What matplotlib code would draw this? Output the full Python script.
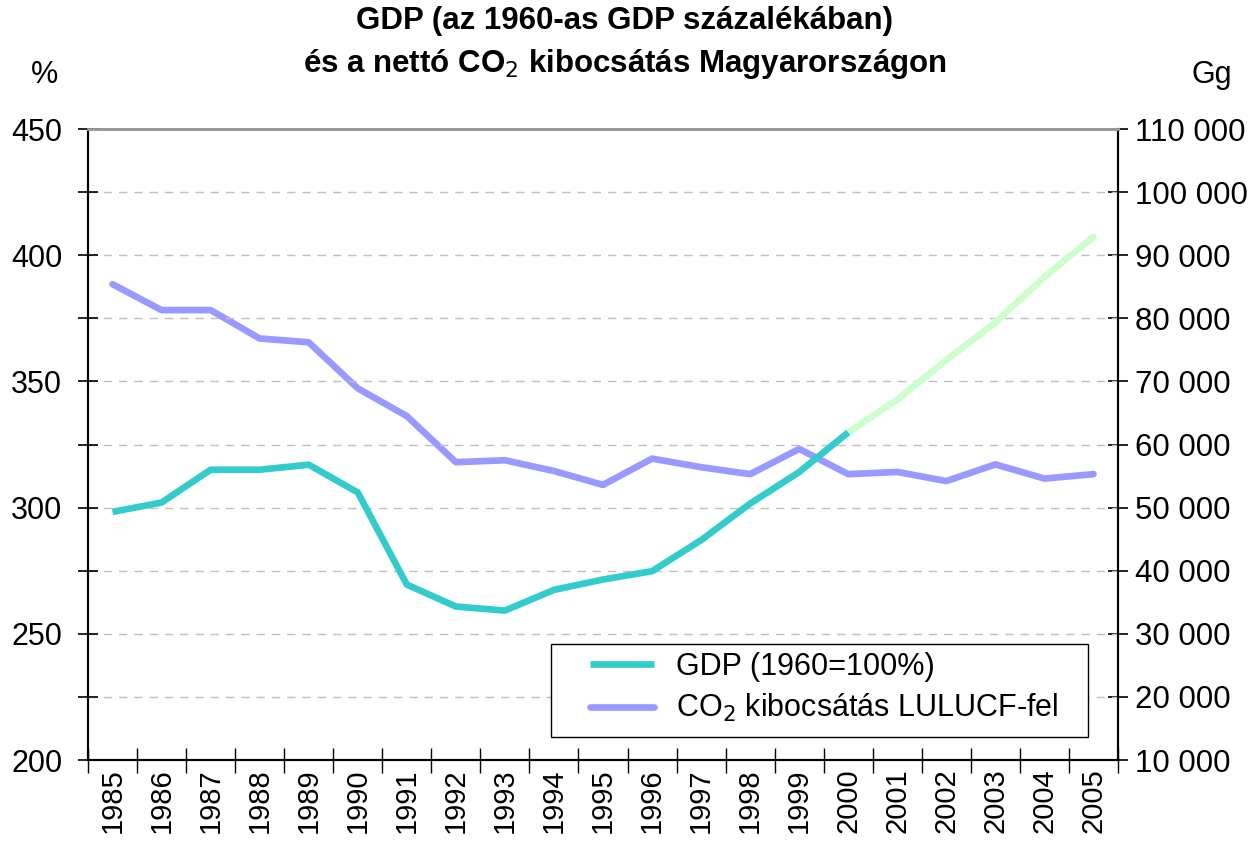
import numpy as np
import matplotlib
matplotlib.use('Agg')
import matplotlib.pyplot as plt
from matplotlib.patches import Rectangle
from matplotlib.ticker import FuncFormatter, MultipleLocator

plt.rcParams['font.family'] = ['Liberation Sans', 'DejaVu Sans']

years = [str(y) for y in range(1985, 2006)]
# GDP, 1960 = 100 %
gdp = [298.3, 302.0, 315.0, 315.0, 317.0, 306.0, 269.5, 260.8, 259.2, 267.4, 271.5,
       274.8, 287.1, 301.6, 314.1, 329.8, 342.8, 358.5, 373.3, 391.4, 407.3]
# net CO2 emission with LULUCF, Gg
co2 = [85400, 81300, 81300, 76800, 76200, 68900, 64500, 57200, 57500, 55800, 53600,
       57760, 56400, 55300, 59300, 55300, 55650, 54200, 56850, 54600, 55300]
last_actual = 15  # 2000, GDP after this year is drawn in light green

c_gdp = '#33CCCC'
c_gdp2 = '#CCFFCC'
c_co2 = '#9999FF'
lw = 4.8

fig = plt.figure(figsize=(12.53, 8.41), dpi=100)
ax = fig.add_axes([88/1253, 1-760/841, (1118-88)/1253, (760-129)/841])
ax2 = ax.twinx()

x = np.arange(len(years))
ax2.plot(x, co2, color=c_co2, lw=lw, solid_capstyle='round', solid_joinstyle='round',
         label='CO$_2$ kibocsátás LULUCF-fel')
ax.plot(x[last_actual:], gdp[last_actual:], color=c_gdp2, lw=lw,
        solid_capstyle='round', solid_joinstyle='round')
ax.plot(x[:last_actual+1], gdp[:last_actual+1], color=c_gdp, lw=lw,
        solid_capstyle='butt', solid_joinstyle='round', label='GDP (1960=100%)')

ax.set_zorder(ax2.get_zorder() + 1)
ax.patch.set_visible(False)

ax.set_xlim(-0.5, len(years) - 0.5)
ax.set_ylim(200, 450)
ax2.set_ylim(10000, 110000)

ax.yaxis.set_major_locator(MultipleLocator(50))
ax.yaxis.set_minor_locator(MultipleLocator(25))
ax2.yaxis.set_major_locator(MultipleLocator(10000))
ax2.yaxis.set_major_formatter(FuncFormatter(lambda v, p: f'{int(v):,}'.replace(',', ' ')))

ax.set_xticks(x)
ax.set_xticklabels(years, rotation=90)
ax.set_xticks(np.arange(-0.5, len(years), 1), minor=True)
ax.tick_params(axis='x', which='major', length=0, pad=6, labelsize=21)
ax.tick_params(axis='x', which='minor', direction='inout', length=18, width=1)
ax.tick_params(axis='y', which='both', direction='inout', length=15, width=1.2, labelsize=22, pad=11)
ax2.tick_params(axis='y', direction='inout', length=15, width=1.2, labelsize=22.5, pad=5)

# dashed horizontal grid every 25 %
ax.grid(axis='y', which='both', linestyle=(0, (6, 5)), color='#c0c0c0', lw=1)
ax.set_axisbelow(True)

for a in (ax, ax2):
    a.spines['top'].set_color('#999999')
    a.spines['top'].set_linewidth(2)
    a.spines['left'].set_linewidth(1.5)
    a.spines['right'].set_linewidth(1.5)
    a.spines['bottom'].set_linewidth(1.5)

fig.text(45/1253, 1-75/841, '%', fontsize=22, ha='center', va='center')
fig.text(1212/1253, 1-75/841, 'Gg', fontsize=22, ha='center', va='center')
fig.text(625/1253, 1-21/841, 'GDP (az 1960-as GDP százalékában)', fontsize=22.5,
         fontweight='bold', ha='center', va='center')
fig.text(625/1253, 1-64/841, 'és a nettó CO$_2$ kibocsátás Magyarországon', fontsize=22.5,
         fontweight='bold', ha='center', va='center')

# legend: frame drawn separately so it can be wider than its content
ax.add_patch(Rectangle((551/1253, 1-737/841), (1088-551)/1253, (737-644)/841,
                       transform=fig.transFigure, facecolor='white', edgecolor='black',
                       lw=1, zorder=4.5))
h1, l1 = ax.get_legend_handles_labels()
h2, l2 = ax2.get_legend_handles_labels()
leg = ax.legend(h1 + h2, l1 + l2, loc='center left', bbox_to_anchor=(590/1253, 1-688/841),
                bbox_transform=fig.transFigure, fontsize=22, frameon=False,
                borderaxespad=0, borderpad=0, handlelength=2.1, handletextpad=0.7,
                labelspacing=0.35)

fig.savefig('out.png', dpi=100)
